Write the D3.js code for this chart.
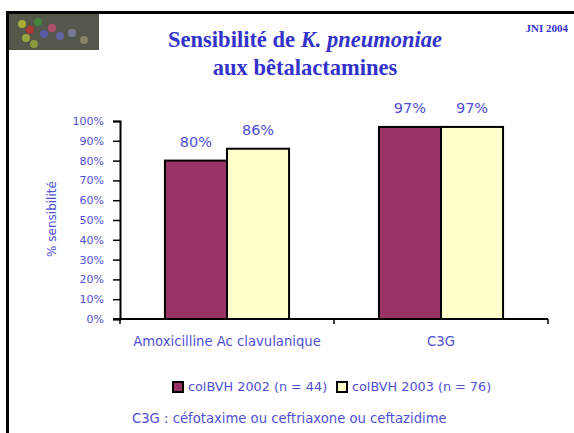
<!DOCTYPE html>
<html>
<head>
<meta charset="utf-8">
<script src="https://cdn.jsdelivr.net/npm/d3@7"></script>
<style>
  body { margin: 0; background: #fff; }
  #chart { width: 574px; height: 433px; }
</style>
</head>
<body>
<div id="chart"></div>
<script>
const categories = ["Amoxicilline Ac clavulanique", "C3G"];
const seriesNames = ["colBVH 2002 (n = 44)", "colBVH 2003 (n = 76)"];
const values2002 = [80, 97];
const values2003 = [86, 97];
const yTicks = [0, 10, 20, 30, 40, 50, 60, 70, 80, 90, 100];

const seriesColors = ["#993366", "#ffffcc"];
const textBlue = "#4f4fd6";
const titleBlue = "#3333cc";
const sans = "'DejaVu Sans', Verdana, sans-serif";
const serif = "'Liberation Serif', 'Times New Roman', serif";

const svg = d3.select("#chart").append("svg")
  .attr("width", 574)
  .attr("height", 433);

// slide frame (top and left black border)
svg.append("rect").attr("x", 6).attr("y", 11).attr("width", 568).attr("height", 3).attr("fill", "#000");
svg.append("rect").attr("x", 6).attr("y", 11).attr("width", 3).attr("height", 422).attr("fill", "#000");

// logo placeholder
const logo = svg.append("g");
logo.append("rect").attr("x", 9).attr("y", 14).attr("width", 90).attr("height", 36).attr("fill", "#55574a");
[[22, 24, "#c8d22a"], [30, 30, "#d62828"], [38, 22, "#3a9a3a"], [26, 38, "#b8c83a"], [44, 34, "#5a5ad0"],
 [52, 28, "#d84a7a"], [34, 44, "#9fb83a"], [60, 36, "#6a6ac8"], [72, 33, "#8888bb"], [84, 40, "#9a9a70"]]
  .forEach(([x, y, c]) => logo.append("circle").attr("cx", x).attr("cy", y).attr("r", 4).attr("fill", c).attr("opacity", 0.7));

// titles
svg.append("text")
  .attr("x", 305).attr("y", 47)
  .attr("text-anchor", "middle")
  .style("font-family", serif)
  .style("font-weight", "bold")
  .style("font-size", "22.5px")
  .style("fill", titleBlue)
  .html("Sensibilité de <tspan font-style='italic'>K. pneumoniae</tspan>");
svg.append("text")
  .attr("x", 305).attr("y", 75)
  .attr("text-anchor", "middle")
  .style("font-family", serif)
  .style("font-weight", "bold")
  .style("font-size", "22.5px")
  .style("fill", titleBlue)
  .text("aux bêtalactamines");
svg.append("text")
  .attr("x", 568).attr("y", 32)
  .attr("text-anchor", "end")
  .style("font-family", serif)
  .style("font-weight", "bold")
  .style("font-size", "11px")
  .style("fill", titleBlue)
  .text("JNI 2004");

// chart area
const x0 = 120, x1 = 548, yTop = 121, yBottom = 319;

const x = d3.scaleBand()
  .domain(categories)
  .range([x0, x1])
  .paddingInner(0.42)
  .paddingOuter(0.21);

const xInner = d3.scaleBand()
  .domain([0, 1])
  .range([0, x.bandwidth()]);

const y = d3.scaleLinear()
  .domain([0, 100])
  .range([yBottom, yTop]);

const rows = categories.map((c, i) => ({ cat: c, vals: [values2002[i], values2003[i]] }));

const groups = svg.selectAll(".grp")
  .data(rows)
  .enter().append("g")
  .attr("transform", (d) => `translate(${x(d.cat)},0)`);

groups.selectAll("rect")
  .data((d) => d.vals)
  .enter().append("rect")
  .attr("x", (_, i) => xInner(i))
  .attr("y", (d) => y(d))
  .attr("width", xInner.bandwidth())
  .attr("height", (d) => yBottom - y(d))
  .attr("fill", (_, i) => seriesColors[i])
  .attr("stroke", "#000")
  .attr("stroke-width", 2);

groups.selectAll("text.val")
  .data((d) => d.vals)
  .enter().append("text")
  .attr("class", "val")
  .attr("x", (_, i) => xInner(i) + xInner.bandwidth() / 2)
  .attr("y", (d) => y(d) - 14)
  .attr("text-anchor", "middle")
  .style("font-family", sans)
  .style("font-size", "14.5px")
  .style("fill", textBlue)
  .text((d) => d + "%");

// y axis
const yAxis = svg.append("g")
  .attr("transform", `translate(${x0},0)`)
  .call(d3.axisLeft(y).tickValues(yTicks).tickFormat((d) => d + "%").tickSize(7).tickPadding(9));
yAxis.select(".domain").attr("stroke", "#000").attr("stroke-width", 2);
yAxis.selectAll(".tick line").attr("stroke", "#000").attr("stroke-width", 1.5);
yAxis.selectAll(".tick text")
  .style("font-family", sans)
  .style("font-size", "11px")
  .style("fill", textBlue);

// x axis
const xAxisG = svg.append("g").attr("transform", `translate(0,${yBottom})`);
xAxisG.append("line")
  .attr("x1", x0 - 7).attr("x2", x1)
  .attr("y1", 0).attr("y2", 0)
  .attr("stroke", "#000").attr("stroke-width", 2);
const boundaries = [x0, (x(categories[0]) + x.bandwidth() + x(categories[1])) / 2, x1];
xAxisG.selectAll(".xt")
  .data(boundaries)
  .enter().append("line")
  .attr("x1", (d) => d).attr("x2", (d) => d)
  .attr("y1", 0).attr("y2", 5)
  .attr("stroke", "#000").attr("stroke-width", 1.5);
xAxisG.selectAll(".xl")
  .data(categories)
  .enter().append("text")
  .attr("x", (d) => x(d) + x.bandwidth() / 2)
  .attr("y", 27)
  .attr("text-anchor", "middle")
  .style("font-family", sans)
  .style("font-size", "13.2px")
  .style("fill", textBlue)
  .text((d) => d);

// y axis title
svg.append("text")
  .attr("transform", "translate(56,219) rotate(-90)")
  .attr("text-anchor", "middle")
  .style("font-family", sans)
  .style("font-size", "12px")
  .style("fill", textBlue)
  .text("% sensibilité");

// legend
const legendPos = [173, 337];
const legend = svg.selectAll(".lg")
  .data(seriesNames)
  .enter().append("g")
  .attr("transform", (_, i) => `translate(${legendPos[i]},382)`);
legend.append("rect")
  .attr("width", 10).attr("height", 10)
  .attr("fill", (_, i) => seriesColors[i])
  .attr("stroke", "#000").attr("stroke-width", 2);
legend.append("text")
  .attr("x", 15).attr("y", 9)
  .style("font-family", sans)
  .style("font-size", "12.8px")
  .style("fill", textBlue)
  .text((d) => d);

// footnote
svg.append("text")
  .attr("x", 132).attr("y", 423)
  .style("font-family", sans)
  .style("font-size", "13.2px")
  .style("fill", textBlue)
  .text("C3G : céfotaxime ou ceftriaxone ou ceftazidime");
</script>
</body>
</html>
